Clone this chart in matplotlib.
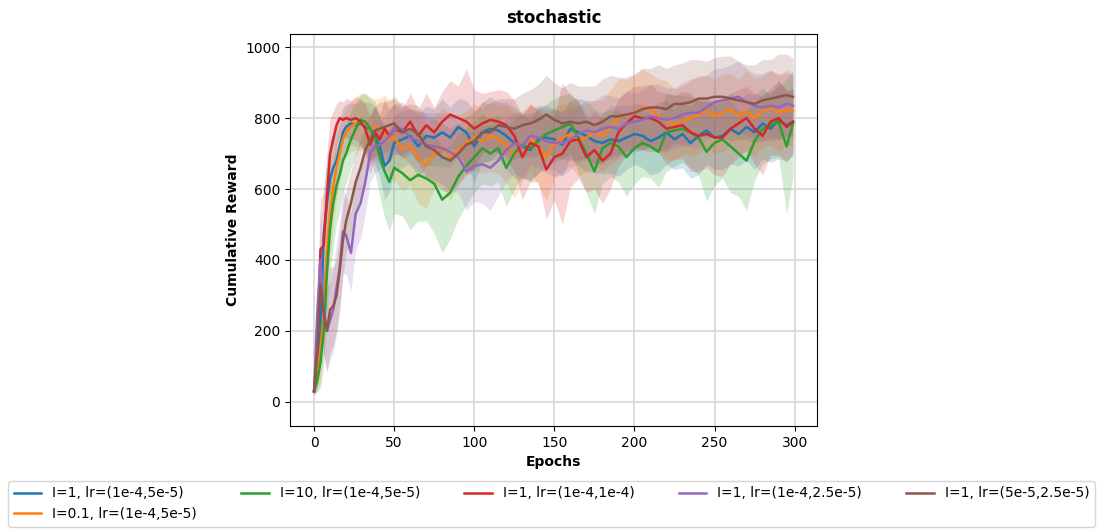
import numpy as np
import matplotlib
matplotlib.use("Agg")
import matplotlib.pyplot as plt

epochs = np.r_[np.arange(0, 21, 2), np.arange(23, 51, 3), np.arange(55, 296, 5), 299]

labels = ["I=1, lr=(1e-4,5e-5)", "I=0.1, lr=(1e-4,5e-5)", "I=10, lr=(1e-4,5e-5)",
          "I=1, lr=(1e-4,1e-4)", "I=1, lr=(1e-4,2.5e-5)", "I=1, lr=(5e-5,2.5e-5)"]

blue = [30, 90, 200, 470, 560, 630, 660, 680, 720, 760, 775,
        785, 780, 785, 775, 770, 750, 720, 665, 680, 730,
        740, 750, 720, 750, 745, 760, 745, 775, 760, 720,
        760, 770, 765, 750, 730, 720, 710, 740, 745, 740,
        725, 770, 760, 750, 735, 730, 740, 735, 745, 755,
        750, 735, 745, 760, 740, 755, 730, 750, 765, 745,
        750, 770, 755, 775, 760, 785, 770, 795, 780, 790]
orange = [30, 70, 150, 250, 420, 530, 610, 660, 700, 740, 760,
          775, 785, 790, 785, 770, 775, 770, 765, 740, 745,
          715, 720, 690, 665, 700, 720, 690, 710, 730, 745,
          735, 750, 740, 725, 695, 720, 745, 720, 690, 730,
          745, 755, 735, 745, 760, 750, 775, 800, 810, 815,
          830, 825, 805, 795, 780, 795, 800, 810, 820, 805,
          815, 825, 805, 820, 800, 820, 830, 815, 825, 820]
green = [30, 60, 110, 200, 360, 490, 560, 610, 640, 680, 700,
         740, 770, 795, 790, 770, 745, 690, 650, 620, 660,
         645, 625, 640, 630, 615, 570, 590, 635, 665, 690,
         715, 700, 715, 660, 700, 725, 715, 735, 755, 765,
         775, 785, 745, 700, 650, 715, 730, 720, 690, 715,
         730, 720, 705, 760, 765, 770, 760, 745, 705, 730,
         740, 720, 700, 680, 735, 770, 780, 790, 720, 785]
red = [30, 150, 430, 440, 580, 700, 740, 780, 800, 795, 800,
       795, 800, 790, 770, 725, 760, 740, 770, 750, 770,
       760, 790, 750, 780, 760, 790, 810, 800, 790, 770,
       785, 795, 790, 780, 750, 690, 730, 720, 655, 690,
       700, 735, 740, 690, 710, 680, 700, 760, 785, 805,
       800, 800, 790, 770, 775, 780, 760, 750, 755, 745,
       745, 770, 785, 800, 770, 750, 790, 800, 775, 790]
purple = [30, 250, 400, 260, 200, 230, 260, 320, 380, 480, 470,
          420, 530, 560, 620, 700, 720, 725, 735, 750, 770,
          770, 745, 735, 725, 720, 715, 705, 690, 650, 665,
          670, 660, 680, 710, 730, 720, 750, 745, 735, 730,
          730, 740, 755, 765, 760, 770, 775, 770, 785, 790,
          795, 805, 800, 795, 800, 810, 815, 815, 830, 845,
          850, 855, 860, 845, 835, 830, 835, 830, 840, 835]
brown = [30, 150, 330, 250, 200, 260, 270, 300, 370, 455, 510,
         560, 620, 660, 710, 740, 765, 770, 775, 780, 785,
         760, 770, 755, 720, 710, 690, 680, 700, 725, 735,
         760, 760, 780, 775, 770, 780, 785, 795, 810, 795,
         785, 790, 785, 790, 780, 790, 805, 805, 810, 815,
         825, 830, 830, 825, 840, 840, 845, 855, 855, 860,
         860, 855, 850, 845, 840, 850, 855, 860, 865, 860]

# spread of the shaded bands
blue_sd = [10, 50, 100, 130, 120, 110, 100, 90, 80, 70, 65,
           60, 60, 65, 70, 75, 80, 85, 95, 90, 80,
           80, 75, 90, 85, 80, 95, 85, 80, 90, 100,
           85, 90, 80, 95, 100, 90, 85, 95, 90, 85,
           90, 80, 95, 100, 90, 85, 95, 100, 90, 85,
           90, 95, 100, 90, 85, 95, 100, 110, 95, 90,
           95, 100, 90, 95, 105, 100, 95, 110, 100, 95]
orange_sd = [10, 40, 90, 120, 130, 120, 100, 90, 80, 70, 65,
             70, 75, 80, 85, 90, 80, 85, 100, 110, 120,
             120, 110, 130, 120, 100, 110, 120, 100, 90, 95,
             90, 100, 95, 110, 120, 100, 95, 110, 120, 100,
             95, 90, 100, 95, 90, 100, 105, 110, 100, 105,
             110, 100, 105, 110, 100, 95, 105, 110, 100, 105,
             110, 100, 105, 115, 110, 100, 105, 110, 100, 100]
green_sd = [10, 30, 70, 100, 120, 130, 120, 110, 100, 90, 85,
            80, 75, 70, 80, 85, 100, 110, 130, 140, 130,
            120, 140, 130, 120, 140, 150, 130, 120, 110, 100,
            100, 90, 95, 110, 100, 90, 95, 90, 85, 90,
            90, 85, 100, 110, 120, 100, 95, 100, 110, 100,
            95, 90, 100, 110, 100, 95, 100, 105, 140, 120,
            110, 130, 120, 140, 110, 100, 95, 100, 190, 150]
red_sd = [10, 70, 140, 150, 120, 100, 80, 60, 50, 50, 55,
          55, 60, 65, 70, 80, 75, 70, 85, 75, 70,
          65, 80, 75, 90, 70, 85, 95, 90, 150, 110,
          85, 80, 90, 95, 100, 120, 110, 100, 140, 120,
          200, 130, 110, 100, 110, 120, 100, 95, 90, 85,
          90, 95, 85, 100, 90, 95, 110, 100, 95, 105,
          110, 100, 95, 90, 100, 110, 95, 105, 100, 90]
purple_sd = [10, 100, 150, 130, 120, 110, 120, 130, 130, 120, 110,
             110, 100, 100, 90, 80, 75, 70, 70, 75, 70,
             75, 80, 85, 90, 95, 100, 110, 100, 110, 100,
             110, 120, 100, 90, 85, 90, 80, 85, 90, 95,
             90, 85, 80, 85, 90, 95, 90, 85, 90, 80,
             85, 90, 95, 90, 85, 90, 95, 100, 90, 95,
             90, 95, 100, 95, 90, 95, 100, 90, 95, 90]
brown_sd = [10, 80, 120, 110, 110, 120, 110, 100, 100, 100, 90,
            90, 85, 80, 75, 70, 70, 75, 70, 70, 70,
            75, 70, 80, 85, 90, 95, 90, 85, 80, 80,
            85, 80, 75, 80, 85, 90, 95, 100, 110, 105,
            100, 110, 105, 100, 110, 120, 115, 110, 105, 110,
            115, 110, 120, 115, 110, 115, 120, 110, 105, 110,
            115, 120, 110, 105, 110, 115, 110, 120, 115, 110]

means = [blue, orange, green, red, purple, brown]
sds = [blue_sd, orange_sd, green_sd, red_sd, purple_sd, brown_sd]
colors = ["C0", "C1", "C2", "C3", "C4", "C5"]

fig = plt.figure(figsize=(10.97, 5.29), dpi=100)
ax = fig.add_axes([0.2644, 0.1947, 0.4804, 0.741])

handles = []
for m, s, c, lab in zip(means, sds, colors, labels):
    m = np.array(m, dtype=float)
    s = np.array(s, dtype=float)
    ax.fill_between(epochs, m - s, m + s, color=c, alpha=0.2, linewidth=0)
    h, = ax.plot(epochs, m, color=c, linewidth=1.8, label=lab)
    handles.append(h)

ax.set_xlim(-15, 314)
ax.set_ylim(-68, 1037)
ax.set_xticks([0, 50, 100, 150, 200, 250, 300])
ax.set_yticks([0, 200, 400, 600, 800, 1000])
ax.grid(True, color="#d8d8d8", linewidth=1.2)
ax.set_axisbelow(True)
ax.set_title("stochastic", fontweight="bold", fontsize=12, pad=8)
ax.set_xlabel("Epochs", fontweight="bold", fontsize=10)
ax.set_ylabel("Cumulative Reward", fontweight="bold", fontsize=10)

fig.legend(handles=handles, loc="lower left", ncol=5, mode="expand",
           bbox_to_anchor=(0.0073, 0.004, 0.991, 0.085), fontsize=10,
           borderaxespad=0)

fig.savefig("out.png", dpi=100)
